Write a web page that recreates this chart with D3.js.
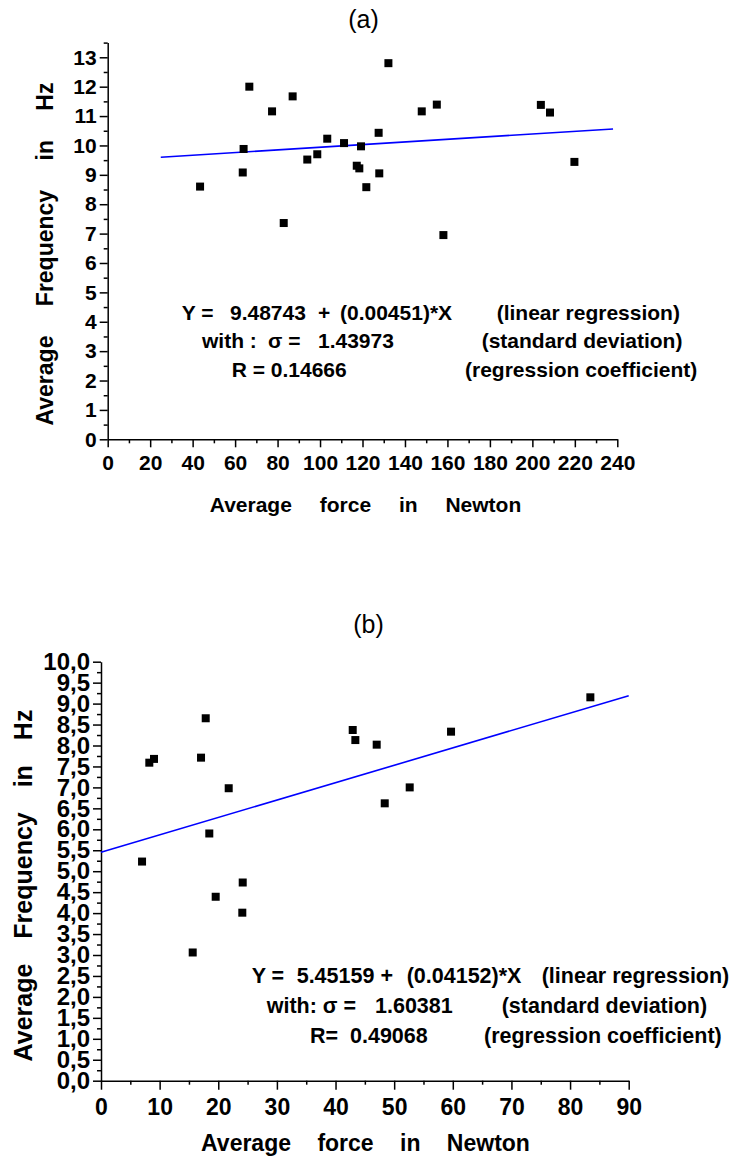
<!DOCTYPE html>
<html>
<head>
<meta charset="utf-8">
<script src="https://cdn.jsdelivr.net/npm/d3@7"></script>
<style>
  body { margin: 0; background: #fff; }
  svg text { font-family: "Liberation Sans", Arial, sans-serif; }
</style>
</head>
<body>
<svg id="chart" width="733" height="1159"></svg>
<script>
// panel (a): force in N, frequency in Hz
const forceA = [43.5, 63.6, 64.0, 66.7, 77.4, 82.9, 87.1, 94.0, 98.7, 103.4, 111.3, 117.3,
  118.5, 119.3, 121.8, 127.6, 127.9, 132.2, 147.9, 155.0, 158.1, 204.0, 208.3, 219.8];
const freqA = [8.60, 9.08, 9.88, 12.0, 11.16, 7.36, 11.67, 9.52, 9.70, 10.23, 10.08, 9.31,
  9.22, 9.97, 8.58, 10.43, 9.05, 12.80, 11.16, 11.39, 6.95, 11.38, 11.12, 9.44];
const interceptA = 9.48743;
const slopeA = 0.00451;
const fitRangeA = [25, 238];
const yTicksA = d3.range(0, 14, 1);
const xTicksA = d3.range(0, 241, 20);
const annotA = [
  ["Y =", "9.48743", "+", "(0.00451)*X", "(linear regression)"],
  ["with :", "\u03c3 =", "1.43973", "(standard deviation)"],
  ["R = 0.14666", "(regression coefficient)"]
];

// panel (b)
const forceB = [7.0, 8.24, 9.04, 15.64, 17.06, 17.86, 18.47, 19.56, 21.78, 24.10, 24.17,
  42.93, 43.38, 47.02, 48.39, 52.65, 59.70, 83.46];
const freqB = [5.23, 7.59, 7.68, 3.06, 7.71, 8.65, 5.90, 4.39, 6.98, 4.01, 4.73,
  8.37, 8.13, 8.02, 6.62, 7.00, 8.33, 9.15];
const interceptB = 5.45159;
const slopeB = 0.04152;
const fitRangeB = [0, 90];
const yTicksB = d3.range(0, 10.01, 0.5);
const xTicksB = d3.range(0, 91, 10);
const annotB = [
  ["Y =", "5.45159 +", "(0.04152)*X", "(linear regression)"],
  ["with: \u03c3 =", "1.60381", "(standard deviation)"],
  ["R=", "0.49068", "(regression coefficient)"]
];

const yTitle = "Average Frequency in Hz";
const xTitle = "Average force in Newton";

const svg = d3.select("#chart");

function panel(o) {
  const g = svg.append("g");
  const x = d3.scaleLinear().domain(o.xDomain).range(o.xRange);
  const y = d3.scaleLinear().domain(o.yDomain).range(o.yRange);
  const y0 = o.yRange[0], x0 = o.xRange[0];

  // minor ticks first
  g.append("g").attr("transform", `translate(0,${y0})`)
    .call(d3.axisBottom(x).tickValues(o.xMinor).tickSize(4).tickFormat(""))
    .call(s => s.select(".domain").remove());
  g.append("g").attr("transform", `translate(${x0},0)`)
    .call(d3.axisLeft(y).tickValues(o.yMinor).tickSize(4).tickFormat(""))
    .call(s => s.select(".domain").remove());

  const xa = g.append("g").attr("transform", `translate(0,${y0})`)
    .call(d3.axisBottom(x).tickValues(o.xTicks).tickSize(o.xTickLen).tickSizeOuter(0)
      .tickPadding(o.xPad));
  xa.selectAll("text").attr("font-size", o.xTickFont).attr("font-weight", "bold")
    .attr("fill", "#000").attr("font-family", "Liberation Sans, Arial, sans-serif");

  const ya = g.append("g").attr("transform", `translate(${x0},0)`)
    .call(d3.axisLeft(y).tickValues(o.yTicks).tickSize(8).tickSizeOuter(0)
      .tickPadding(3).tickFormat(o.yFormat));
  ya.selectAll("text").attr("font-size", o.yTickFont).attr("font-weight", "bold")
    .attr("fill", "#000").attr("font-family", "Liberation Sans, Arial, sans-serif");

  g.selectAll(".tick line, .domain").attr("stroke", "#000").attr("stroke-width", 1.5);

  // fit line
  g.append("line")
    .attr("x1", x(o.fit[0])).attr("y1", y(o.b + o.m * o.fit[0]))
    .attr("x2", x(o.fit[1])).attr("y2", y(o.b + o.m * o.fit[1]))
    .attr("stroke", "#0000ff").attr("stroke-width", 1.6);

  // markers
  g.selectAll("rect.pt").data(o.xs.map((v, i) => [v, o.ys[i]])).enter()
    .append("rect").attr("class", "pt")
    .attr("x", d => x(d[0]) - 4).attr("y", d => y(d[1]) - 4)
    .attr("width", 8).attr("height", 8).attr("fill", "#000");

  // panel label
  g.append("text").attr("x", o.label.x).attr("y", o.label.y)
    .attr("text-anchor", "middle").attr("font-size", 25).text(o.label.t);

  // axis titles
  g.append("text")
    .attr("transform", `translate(${o.yt.x},${o.yt.y}) rotate(-90)`)
    .attr("text-anchor", "middle").attr("font-weight", "bold")
    .attr("font-size", o.yt.size).attr("word-spacing", o.yt.ws).text(yTitle);
  g.append("text").attr("x", o.xt.x).attr("y", o.xt.y)
    .attr("text-anchor", "middle").attr("font-weight", "bold")
    .attr("font-size", o.xt.size).attr("word-spacing", o.xt.ws).text(xTitle);

  // regression annotation
  o.annot.forEach((row, i) => {
    row.forEach((t, j) => {
      g.append("text").attr("x", o.annotX[i][j]).attr("y", o.annotY[i])
        .attr("font-weight", "bold").attr("font-size", o.annotSize).text(t);
    });
  });
}

panel({
  xs: forceA, ys: freqA, b: interceptA, m: slopeA, fit: fitRangeA,
  xDomain: [0, 240], xRange: [107.7, 617.3],
  yDomain: [0, 13.5], yRange: [439.3, 42.6],
  xTicks: xTicksA, xMinor: d3.range(10, 240, 20),
  yTicks: yTicksA, yMinor: d3.range(0.5, 13.6, 1),
  yFormat: d3.format("d"),
  xTickLen: 8, xPad: 8, xTickFont: 21, yTickFont: 21,
  label: { x: 363.5, y: 28, t: "(a)" },
  yt: { x: 53, y: 254, size: 23, ws: 23 },
  xt: { x: 365.5, y: 512, size: 21, ws: 22 },
  annot: annotA, annotSize: 21,
  annotY: [320, 348, 376.7],
  annotX: [[181.7, 230, 318, 340, 496.7], [202, 268, 318, 481.7], [231.7, 465]]
});

panel({
  xs: forceB, ys: freqB, b: interceptB, m: slopeB, fit: fitRangeB,
  xDomain: [0, 90], xRange: [101, 628.7],
  yDomain: [0, 10], yRange: [1080.7, 661.7],
  xTicks: xTicksB, xMinor: d3.range(5, 90, 10),
  yTicks: yTicksB, yMinor: d3.range(0.25, 10, 0.5),
  yFormat: d => d.toFixed(1).replace(".", ","),
  xTickLen: 9, xPad: 9, xTickFont: 23, yTickFont: 24,
  label: { x: 368.5, y: 633, t: "(b)" },
  yt: { x: 32, y: 885.5, size: 25, ws: 18 },
  xt: { x: 365.5, y: 1151, size: 23, ws: 20 },
  annot: annotB, annotSize: 21.5,
  annotY: [983, 1013, 1043],
  annotX: [[251.7, 296.7, 406.7, 541.7], [266.7, 375, 501.7], [310, 350, 484]]
});
</script>
</body>
</html>
